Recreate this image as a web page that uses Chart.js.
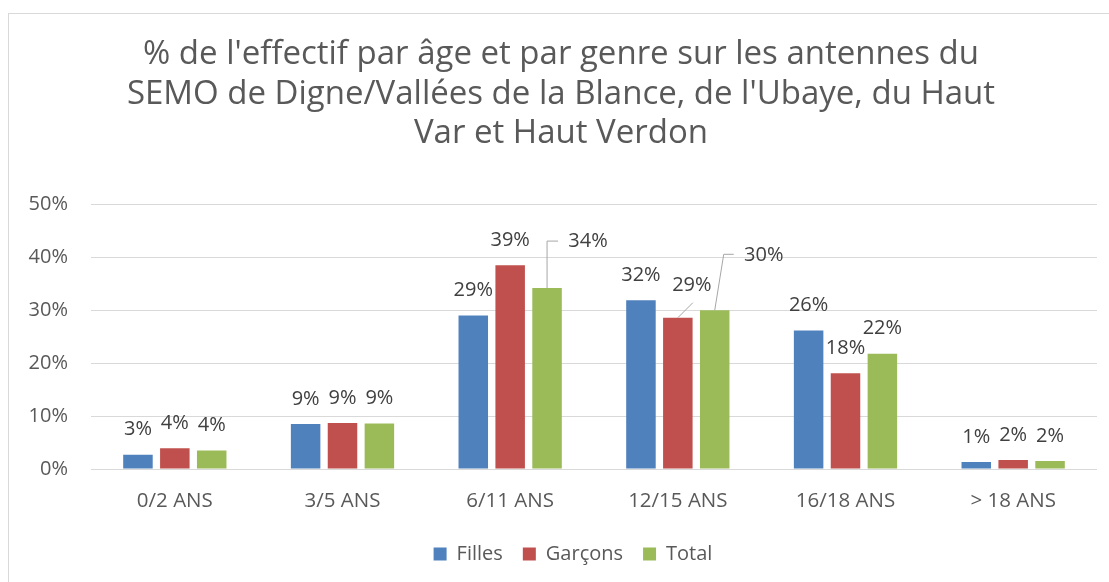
<!DOCTYPE html>
<html>
<head>
<meta charset="utf-8">
<script src="https://cdn.jsdelivr.net/npm/chart.js@4"></script>
<style>
    html, body { margin: 0; padding: 0; background: #fff; }
    .frame {
        position: absolute;
        left: 8px;
        top: 13px;
        width: 1101px;
        height: 569px;
        border-top: 1px solid #d9d9d9;
        border-left: 1px solid #d9d9d9;
    }
</style>
</head>
<body>
<div class="frame">
    <canvas id="ageChart" width="1100" height="568"></canvas>
</div>
<script>
const categories = ['0/2 ANS', '3/5 ANS', '6/11 ANS', '12/15 ANS', '16/18 ANS', '> 18 ANS'];
const filles = [2.7, 8.5, 29.0, 31.9, 26.2, 1.3];
const garcons = [3.9, 8.7, 38.5, 28.6, 18.1, 1.7];
const total = [3.5, 8.6, 34.2, 30.0, 21.8, 1.5];
const yTicks = [0, 10, 20, 30, 40, 50];

const chartTitle = [
    "% de l'effectif par âge et par genre sur les antennes du",
    "SEMO de Digne/Vallées de la Blance, de l'Ubaye, du Haut",
    "Var et Haut Verdon"
];

const fontFamily = "'Open Sans', sans-serif";

// labels that Excel moved away from their bar, with a leader line
// key = dataset-index, offsets relative to the top centre of the bar
const movedLabels = {
    '2-2': { dx: 41, dy: -47, leader: [[0, 0], [0, -47], [11, -47]] },
    '1-3': { dx: 14, dy: -32, leader: [[0, 0], [15, -15]] },
    '2-3': { dx: 49, dy: -55, leader: [[0, 0], [9, -56], [19, -56]] }
};

const dataLabels = {
    id: 'dataLabels',
    afterDatasetsDraw(chart) {
        const ctx = chart.ctx;
        ctx.save();
        ctx.font = '20px ' + fontFamily;
        ctx.fillStyle = '#404040';
        ctx.textAlign = 'center';
        ctx.textBaseline = 'middle';
        chart.data.datasets.forEach((ds, d) => {
            const meta = chart.getDatasetMeta(d);
            meta.data.forEach((bar, i) => {
                const text = Math.round(ds.data[i]) + '%';
                const moved = movedLabels[d + '-' + i];
                if (moved) {
                    ctx.strokeStyle = '#a6a6a6';
                    ctx.lineWidth = 1;
                    ctx.beginPath();
                    moved.leader.forEach((p, k) => {
                        const px = bar.x + p[0];
                        const py = bar.y + p[1];
                        if (k === 0) ctx.moveTo(px, py); else ctx.lineTo(px, py);
                    });
                    ctx.stroke();
                    ctx.fillText(text, bar.x + moved.dx, bar.y + moved.dy);
                } else {
                    ctx.fillText(text, bar.x, bar.y - 25);
                }
            });
        });
        ctx.restore();
    }
};

// excel centres the legend a bit to the right of the title
const legendShift = {
    id: 'legendShift',
    afterLayout(chart) {
        chart.legend.left += 12;
        chart.legend.right += 12;
    }
};

new Chart(document.getElementById('ageChart'), {
    type: 'bar',
    data: {
        labels: categories,
        datasets: [
            { label: 'Filles', data: filles, backgroundColor: '#4f81bd' },
            { label: 'Garçons', data: garcons, backgroundColor: '#c0504d' },
            { label: 'Total', data: total, backgroundColor: '#9bbb59' }
        ]
    },
    options: {
        responsive: false,
        animation: false,
        layout: { padding: { left: 16, right: 12, top: 0, bottom: 8 } },
        datasets: {
            bar: { categoryPercentage: 0.66, barPercentage: 0.8 }
        },
        plugins: {
            title: {
                display: true,
                text: chartTitle,
                color: '#595959',
                font: { family: fontFamily, size: 33, weight: 'normal', lineHeight: 1.197 },
                padding: { top: 21, bottom: 51 }
            },
            legend: {
                position: 'bottom',
                labels: {
                    color: '#595959',
                    font: { family: fontFamily, size: 20 },
                    boxWidth: 13,
                    boxHeight: 13,
                    padding: 20
                }
            },
            tooltip: { enabled: false }
        },
        scales: {
            x: {
                grid: { display: false, drawTicks: false },
                border: { display: false },
                ticks: {
                    color: '#595959',
                    font: { family: fontFamily, size: 20.5 },
                    padding: 20
                },
                afterFit(scale) { scale.height = 55; }
            },
            y: {
                min: 0,
                max: 50,
                afterBuildTicks(scale) {
                    scale.ticks = yTicks.map(v => ({ value: v }));
                },
                grid: { color: '#d9d9d9', drawTicks: false },
                border: { display: false },
                ticks: {
                    color: '#595959',
                    font: { family: fontFamily, size: 20 },
                    padding: 23,
                    callback: v => v + '%'
                },
                afterFit(scale) { scale.width = 66; }
            }
        }
    },
    plugins: [dataLabels, legendShift]
});
</script>
</body>
</html>
